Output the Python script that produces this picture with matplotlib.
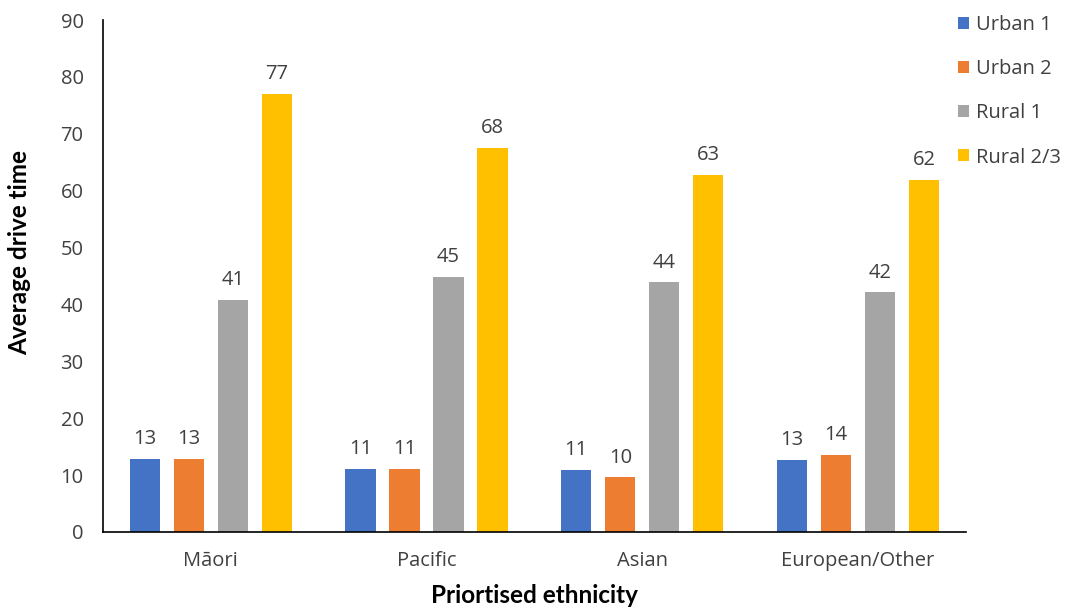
import matplotlib
matplotlib.use("Agg")
import matplotlib.pyplot as plt
import numpy as np

categories = ["Māori", "Pacific", "Asian", "European/Other"]
series_names = ["Urban 1", "Urban 2", "Rural 1", "Rural 2/3"]
urban1 = [12.9, 11.1, 10.9, 12.7]
urban2 = [12.9, 11.1, 9.6, 13.6]
rural1 = [40.8, 44.8, 43.9, 42.1]
rural23 = [77.0, 67.5, 62.8, 61.9]
y_ticks = [0, 10, 20, 30, 40, 50, 60, 70, 80, 90]
colors = ["#4472C4", "#ED7D31", "#A5A5A5", "#FFC000"]

plt.rcParams['font.family'] = ['Open Sans', 'DejaVu Sans']

fig = plt.figure(figsize=(10.68, 6.16), dpi=100)
ax = fig.add_axes([0.0964, 0.1364, 0.808, 0.8311])

series = [urban1, urban2, rural1, rural23]
x = np.arange(len(categories))
offsets = [-0.306, -0.102, 0.102, 0.306]
width = 0.14
for vals, off, c, name in zip(series, offsets, colors, series_names):
    bars = ax.bar(x + off, vals, width, color=c, label=name)
    for b, v in zip(bars, vals):
        ax.annotate(f"{v:.0f}", (b.get_x() + b.get_width() / 2, v),
                    xytext=(0, 7), textcoords="offset points",
                    ha="center", va="bottom", fontsize=14.5, color="#404040")

ax.set_xlim(-0.5, 3.5)
ax.set_ylim(0, 90)
ax.set_yticks(y_ticks)
ax.set_xticks(x)
ax.set_xticklabels(categories)
ax.tick_params(axis="both", length=0, labelsize=14.5, labelcolor="#404040")
ax.tick_params(axis="y", pad=14)
ax.tick_params(axis="x", pad=14)
for s in ["top", "right"]:
    ax.spines[s].set_visible(False)
for s in ["left", "bottom"]:
    ax.spines[s].set_color("black")
    ax.spines[s].set_linewidth(1.2)

ax.set_ylabel("Average drive time", fontsize=17.5, fontweight="bold",
              family=["Lato", "DejaVu Sans"])
ax.yaxis.set_label_coords(-0.083, 0.545)
ax.set_xlabel("Priortised ethnicity", fontsize=17.5, fontweight="bold",
              family=["Lato", "DejaVu Sans"], labelpad=9)

leg = fig.legend(loc="upper left", bbox_to_anchor=(0.880, 1.005), frameon=False,
                 fontsize=14.5, handlelength=0.55, handleheight=0.55,
                 handletextpad=0.35, labelspacing=1.2)
for t in leg.get_texts():
    t.set_color("#404040")

fig.savefig("out.png", dpi=100)
